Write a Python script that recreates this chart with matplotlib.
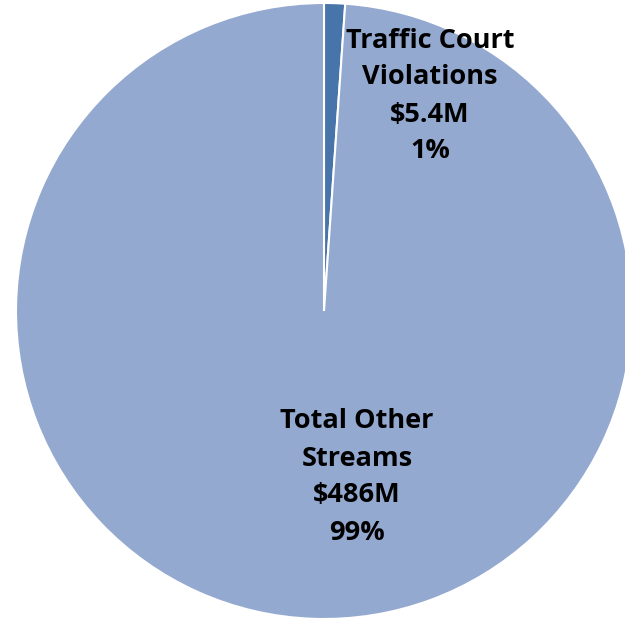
import matplotlib.pyplot as plt

labels = ["Traffic Court\nViolations\n$5.4M\n1%", "Total Other\nStreams\n$486M\n99%"]
values = [5.4, 486]
colors = ["#4774A9", "#94A9D0"]

W, H = 625, 623
fig = plt.figure(figsize=(W / 100, H / 100), dpi=100)
ax = fig.add_axes([0, 0, 1, 1])

wedges, _ = ax.pie(values, colors=colors, startangle=90, counterclock=False,
                   center=(324, H - 311), radius=308,
                   wedgeprops=dict(edgecolor="white", linewidth=1.5))
ax.set_xlim(0, W)
ax.set_ylim(0, H)
ax.set_aspect("equal")
ax.axis("off")

ax.text(430, H - 96, labels[0], ha="center", va="center", fontsize=19.5,
        fontweight="bold", family="Open Sans", linespacing=1.55, color="black")
ax.text(357, H - 477, labels[1], ha="center", va="center", fontsize=19.5,
        fontweight="bold", family="Open Sans", linespacing=1.55, color="black")

fig.savefig("out.png", dpi=100)
